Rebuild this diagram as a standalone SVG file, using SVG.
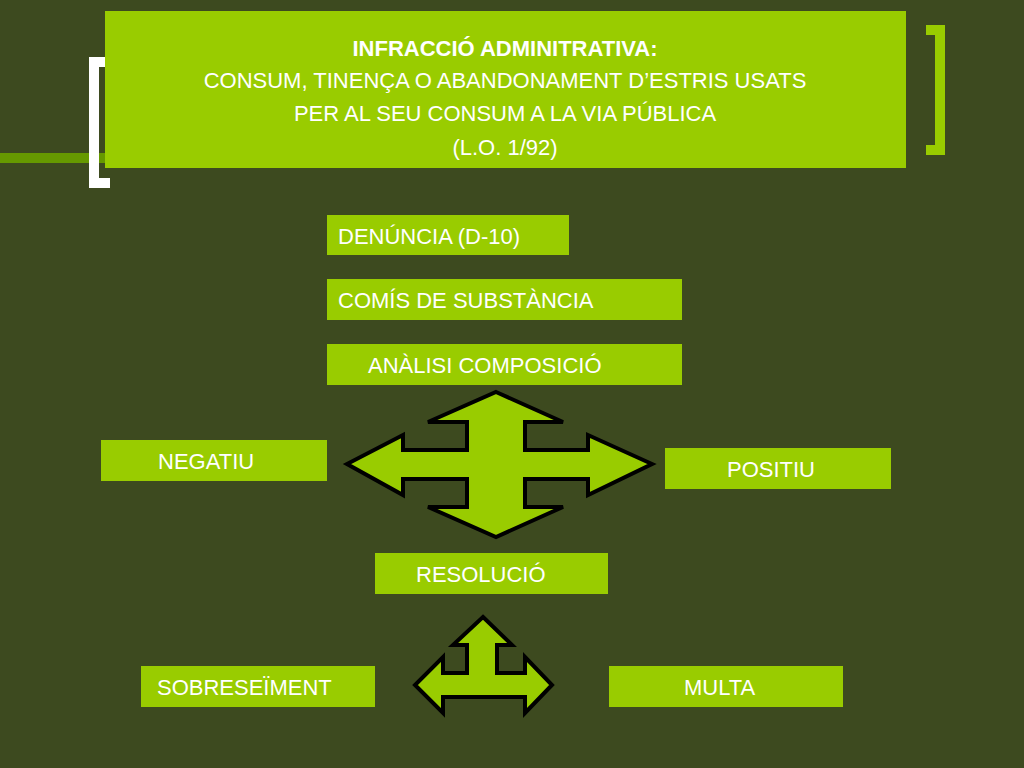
<svg xmlns="http://www.w3.org/2000/svg" width="1024" height="768" viewBox="0 0 1024 768">
<style>
.box{fill:#99cc00}
.t{font-family:"Liberation Sans",Arial,sans-serif;fill:#fff;font-size:22px}
.arr{fill:#99cc00;stroke:#000;stroke-width:4;stroke-linejoin:miter}
</style>
<rect width="1024" height="768" fill="#3d4a1f"/>
<rect x="0" y="153" width="110" height="10" fill="#669900"/>
<path d="M110 62 H94 V183 H110" fill="none" stroke="#fff" stroke-width="10"/>
<path d="M926 30 H940 V150 H926" fill="none" stroke="#99cc00" stroke-width="10"/>
<g id="title"><rect class="box" x="105" y="11" width="801" height="157"/>
<text class="t" x="505" y="56" text-anchor="middle" font-weight="bold">INFRACCIÓ ADMINITRATIVA:</text>
<text class="t" x="505" y="88" text-anchor="middle" font-size="23">CONSUM, TINENÇA O ABANDONAMENT D’ESTRIS USATS</text>
<text class="t" x="505" y="121" text-anchor="middle" font-size="23">PER AL SEU CONSUM A LA VIA PÚBLICA</text>
<text class="t" x="505" y="155" text-anchor="middle" font-size="23">(L.O. 1/92)</text></g>
<g id="n1"><rect class="box" x="327" y="215" width="242" height="40"/><text class="t" x="338" y="244">DENÚNCIA (D-10)</text></g>
<g id="n2"><rect class="box" x="327" y="279" width="355" height="41"/><text class="t" x="338" y="308">COMÍS DE SUBSTÀNCIA</text></g>
<g id="n3"><rect class="box" x="327" y="344" width="355" height="41"/><text class="t" x="368" y="373">ANÀLISI COMPOSICIÓ</text></g>
<g id="n4"><rect class="box" x="101" y="440" width="226" height="41"/><text class="t" x="158" y="469">NEGATIU</text></g>
<g id="n5"><rect class="box" x="665" y="448" width="226" height="41"/><text class="t" x="727" y="477">POSITIU</text></g>
<g id="n6"><rect class="box" x="375" y="553" width="233" height="41"/><text class="t" x="416" y="582">RESOLUCIÓ</text></g>
<g id="n7"><rect class="box" x="141" y="666" width="234" height="41"/><text class="t" x="157" y="695">SOBRESEÏMENT</text></g>
<g id="n8"><rect class="box" x="609" y="666" width="234" height="41"/><text class="t" x="684" y="695">MULTA</text></g>
<g id="connectors">
<path class="arr" d="M496 392 L563 422 H525 V450 H588 V435 L652 464 L588 495 V479 H525 V507 H563 L496 537 L428 507 H467 V479 H403 V495 L347 464 L403 435 V450 H467 V422 H428 Z"/>
<path class="arr" d="M483 617 L512 645 H497 V673 H525 V657 L552 685 L525 713 V697 H443 V713 L415 685 L443 657 V673 H467 V645 H453 Z"/>
</g>
</svg>
